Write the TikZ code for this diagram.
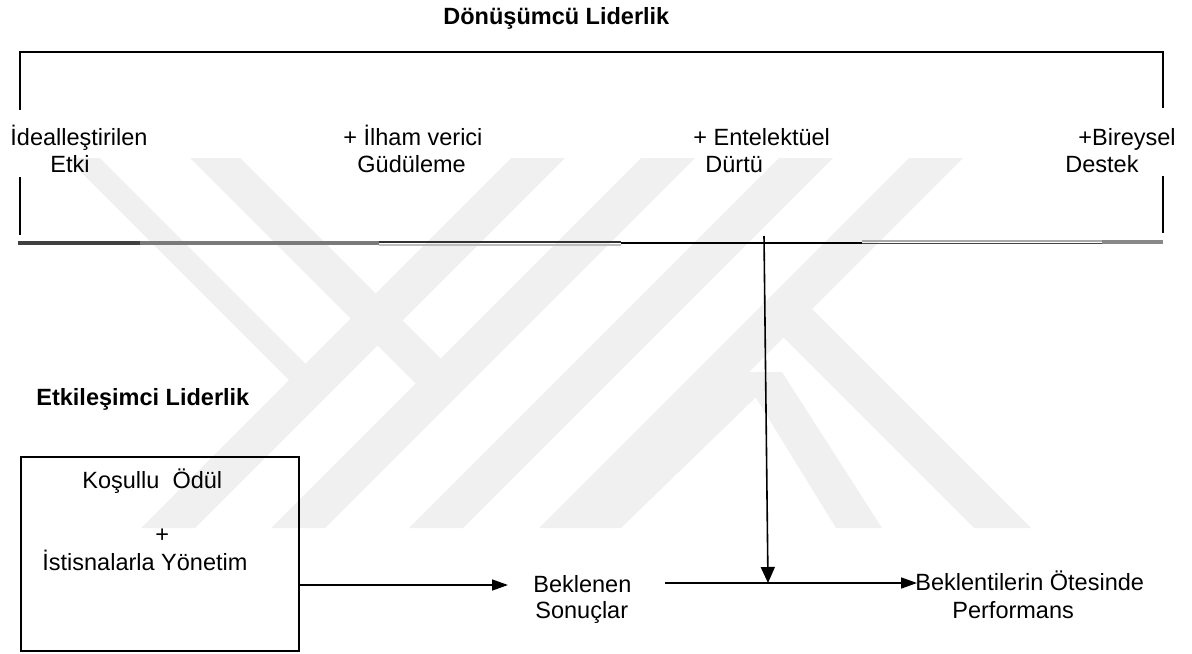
\documentclass[tikz,border=0pt]{standalone}
\usepackage{fontspec}
\setmainfont{Liberation Sans}
\usetikzlibrary{arrows.meta}
\definecolor{wm}{HTML}{F0F0F0}
\tikzset{
  lbl/.style={anchor=base west, inner sep=0pt, font=\fontsize{11.75pt}{13.5pt}\selectfont},
  hdr/.style={anchor=base west, inner sep=0pt, font=\fontsize{11.75pt}{13.5pt}\selectfont\bfseries},
  frame/.style={line width=1pt, black},
  arr/.style={line width=0.8pt, -{Triangle[length=8pt,width=5.5pt]}},
  darr/.style={line width=0.8pt, -{Triangle[length=8pt,width=7pt]}},
  band/.style={fill=wm, draw=none},
}
\begin{document}
\begin{tikzpicture}[x=0.5pt,y=-0.5pt]
\useasboundingbox (0,0) rectangle (1192,653);

% faint emblem in the background
\begin{scope}
  \clip (0,158) rectangle (1192,528);
  % short strokes joining the long ones
  \fill[band] (67,158) -- (100,158) -- (305.5,363.5) -- (316,407) -- cycle;
  \fill[band] (190,158) -- (240,158) -- (440.5,358.5) -- (442.5,410.5) -- cycle;
  % long strokes
  \fill[band] (511,158) -- (565,158) -- (195,528) -- (141,528) -- cycle;
  \fill[band] (641,158) -- (695,158) -- (325,528) -- (271,528) -- cycle;
  \fill[band] (779,158) -- (833,158) -- (463,528) -- (409,528) -- cycle;
  \fill[band] (909,158) -- (963,158) -- (593,528) -- (539,528) -- cycle;
  % legs
  \fill[band] (785,282) -- (1031,528) -- (974,528) -- (783.5,337.5) -- cycle;
  \fill[band] (740,372) -- (782,372) -- (882,528) -- (836,528) -- cycle;
  \fill[band] (740,372) -- (782,372) -- (621,528) -- (590,528) -- cycle;
\end{scope}

% header
\node[hdr] (dl) at (443,25) {Dönüşümcü Liderlik};

% bracket
\coordinate (bl) at (20,52);
\coordinate (br) at (1163,52);
\draw[frame] (20,110) -- (bl) -- (br) -- (1163,108);
\draw[frame] (20,177) -- (20,235);
\draw[frame] (1163,176) -- (1163,233);

% bracket base line, built from overlapping strokes
\draw[line width=1.6pt, color={rgb,255:red,64;green,64;blue,64}] (18,243) -- (140,243);
\draw[line width=1.6pt, color={rgb,255:red,122;green,122;blue,122}] (140,243) -- (379,243);
\draw[line width=1pt, color={rgb,255:red,190;green,190;blue,190}] (379,244.5) -- (621,244.5);
\draw[line width=0.9pt, color={rgb,255:red,50;green,50;blue,50}] (379,242) -- (621,242);
\draw[line width=0.9pt, black] (621,243) -- (862,243);
\draw[line width=1pt, color={rgb,255:red,170;green,170;blue,170}] (862,241) -- (1102,241);
\draw[line width=0.9pt, color={rgb,255:red,70;green,70;blue,70}] (862,243.5) -- (1102,243.5);
\draw[line width=1.6pt, color={rgb,255:red,136;green,136;blue,136}] (1102,242) -- (1163,242);

% four components
\node[lbl] (ie1) at (10,145) {İdealleştirilen};
\node[lbl] (ie2) at (50,172) {Etki};
\node[lbl] (ig1) at (343,145) {+ İlham verici};
\node[lbl] (ig2) at (357,172) {Güdüleme};
\node[lbl] (ed1) at (693,145) {+ Entelektüel};
\node[lbl] (ed2) at (705,172) {Dürtü};
\node[lbl] (bd1) at (1078,145) {+Bireysel};
\node[lbl] (bd2) at (1065,172) {Destek};

% transactional part
\node[hdr] (el) at (36,405) {Etkileşimci Liderlik};
\node[draw, line width=0.9pt, anchor=north west, inner sep=0pt,
      minimum width=139pt, minimum height=97pt] (tr) at (20,456) {};
\node[lbl] (ko) at (82,488) {Koşullu \ Ödül};
\node[lbl] (pl) at (155,542) {+};
\node[lbl] (iy) at (42,570) {İstisnalarla Yönetim};

\node[lbl] (bs1) at (533,592) {Beklenen};
\node[lbl] (bs2) at (535,618) {Sonuçlar};
\node[lbl] (bo1) at (915,590) {Beklentilerin Ötesinde};
\node[lbl] (bo2) at (952,618) {Performans};

% connectors
\coordinate (tr-out) at (tr.east |- 0,585);
\coordinate (bs-in) at (508,585);
\coordinate (bs-out) at (665,583);
\coordinate (bo-in) at (917,583);
\coordinate (base-j) at (764,236);
\coordinate (j) at (768,583);
\draw[arr] (tr-out) -- (bs-in);
\draw[arr] (bs-out) -- (bo-in);
\draw[darr] (base-j) -- (j);
\end{tikzpicture}
\end{document}
